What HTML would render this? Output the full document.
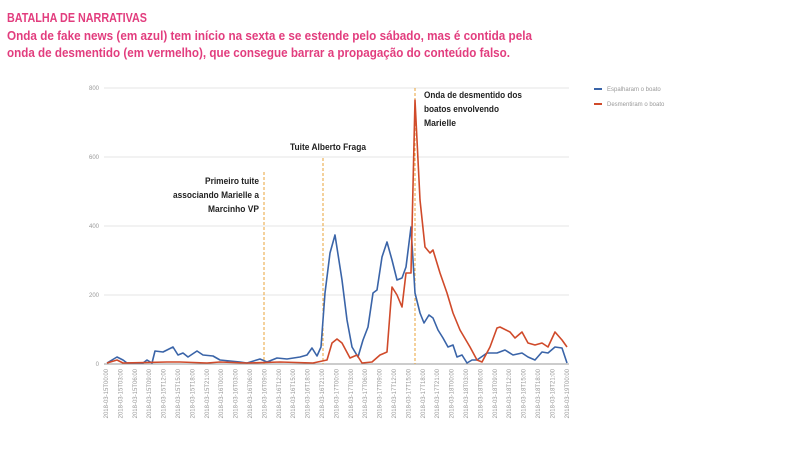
<!DOCTYPE html>
<html><head><meta charset="utf-8"><style>
html,body{margin:0;padding:0;background:#fff;width:800px;height:450px;overflow:hidden}
svg{display:block}
.t{font-family:"Liberation Sans Narrow","Liberation Sans",sans-serif;font-weight:bold;fill:#e23d7e}
.a{font-family:"Liberation Sans Narrow","Liberation Sans",sans-serif;font-weight:bold;fill:#222;font-size:9.5px}
.ax{font-family:"Liberation Sans",sans-serif;fill:#999;font-size:6px}
</style></head><body>
<svg width="800" height="450" viewBox="0 0 800 450">
<text class="t" x="7" y="22" font-size="13" textLength="140" lengthAdjust="spacingAndGlyphs">BATALHA DE NARRATIVAS</text>
<text class="t" x="7" y="40" font-size="13" textLength="525" lengthAdjust="spacingAndGlyphs">Onda de fake news (em azul) tem início na sexta e se estende pelo sábado, mas é contida pela</text>
<text class="t" x="7" y="57" font-size="13" textLength="503" lengthAdjust="spacingAndGlyphs">onda de desmentido (em vermelho), que consegue barrar a propagação do conteúdo falso.</text>
<g stroke="#e4e4e4" stroke-width="1">
<line x1="104" y1="88" x2="569" y2="88"/><line x1="104" y1="157" x2="569" y2="157"/>
<line x1="104" y1="226" x2="569" y2="226"/><line x1="104" y1="295" x2="569" y2="295"/>
</g>
<line x1="104" y1="364" x2="569" y2="364" stroke="#999" stroke-width="1"/>
<g class="ax" text-anchor="end">
<text x="99" y="90">800</text><text x="99" y="159">600</text><text x="99" y="228">400</text><text x="99" y="297">200</text><text x="99" y="366">0</text>
</g>
<g stroke="#e8a33a" stroke-width="1" stroke-dasharray="3,2">
<line x1="264" y1="172" x2="264" y2="364"/><line x1="323" y1="158" x2="323" y2="364"/><line x1="415" y1="88" x2="415" y2="364"/>
</g>
<text class="a" x="259" y="184" text-anchor="end" textLength="54" lengthAdjust="spacingAndGlyphs">Primeiro tuite</text>
<text class="a" x="259" y="198" text-anchor="end" textLength="86" lengthAdjust="spacingAndGlyphs">associando Marielle a</text>
<text class="a" x="259" y="212" text-anchor="end" textLength="51" lengthAdjust="spacingAndGlyphs">Marcinho VP</text>
<text class="a" x="290" y="150" textLength="76" lengthAdjust="spacingAndGlyphs">Tuite Alberto Fraga</text>
<text class="a" x="424" y="98" textLength="98" lengthAdjust="spacingAndGlyphs">Onda de desmentido dos</text>
<text class="a" x="424" y="112" textLength="75" lengthAdjust="spacingAndGlyphs">boatos envolvendo</text>
<text class="a" x="424" y="126" textLength="32" lengthAdjust="spacingAndGlyphs">Marielle</text>
<polyline fill="none" stroke="#3a64a8" stroke-width="1.6" stroke-linejoin="round" points="107,363 117,357 123,360 127,363 143,363 147,360 152,363 155,351 163,352 173,347 178,355 183,353 188,357 197,351 203,355 213,356 220,360 230,361 240,362 247,363 260,359 267,362 277,358 287,359 300,357 307,355 312,348 317,356 321,347 325,293 330,253 335,235 342,280 347,320 352,347 358,357 363,340 368,327 373,293 377,290 382,257 387,242 392,260 397,280 402,278 406,267 411,227 415,293 420,313 424,323 429,315 433,318 438,330 443,338 448,347 453,345 457,357 462,355 467,363 472,360 477,360 487,353 497,353 505,350 513,355 522,353 528,357 535,360 542,352 548,353 555,347 562,348 567,363"/>
<polyline fill="none" stroke="#d04a2a" stroke-width="1.6" stroke-linejoin="round" points="107,363 117,360 123,363 167,362 180,362 207,363 220,362 247,363 280,362 313,363 327,360 332,343 337,339 342,343 350,358 357,355 362,363 372,362 380,355 387,352 392,287 397,295 402,307 406,273 411,273 415,100 420,200 425,247 430,253 433,250 440,273 447,293 453,313 460,330 470,347 477,360 482,362 490,347 497,328 500,327 510,332 515,338 522,332 528,343 535,345 542,343 548,347 555,332 562,340 567,347"/>
<line x1="594" y1="89" x2="602" y2="89" stroke="#3a64a8" stroke-width="2"/>
<text class="ax" x="607" y="91" font-size="6.5">Espalharam o boato</text>
<line x1="594" y1="104" x2="602" y2="104" stroke="#d04a2a" stroke-width="2"/>
<text class="ax" x="607" y="106" font-size="6.5">Desmentiram o boato</text>
<g class="ax" text-anchor="end" font-size="5.5">
<text transform="translate(108,369) rotate(-90)">2018-03-15T00:00</text>
<text transform="translate(122.4,369) rotate(-90)">2018-03-15T03:00</text>
<text transform="translate(136.8,369) rotate(-90)">2018-03-15T06:00</text>
<text transform="translate(151.2,369) rotate(-90)">2018-03-15T09:00</text>
<text transform="translate(165.6,369) rotate(-90)">2018-03-15T12:00</text>
<text transform="translate(180,369) rotate(-90)">2018-03-15T15:00</text>
<text transform="translate(194.4,369) rotate(-90)">2018-03-15T18:00</text>
<text transform="translate(208.8,369) rotate(-90)">2018-03-15T21:00</text>
<text transform="translate(223.2,369) rotate(-90)">2018-03-16T00:00</text>
<text transform="translate(237.6,369) rotate(-90)">2018-03-16T03:00</text>
<text transform="translate(252,369) rotate(-90)">2018-03-16T06:00</text>
<text transform="translate(266.4,369) rotate(-90)">2018-03-16T09:00</text>
<text transform="translate(280.8,369) rotate(-90)">2018-03-16T12:00</text>
<text transform="translate(295.2,369) rotate(-90)">2018-03-16T15:00</text>
<text transform="translate(309.6,369) rotate(-90)">2018-03-16T18:00</text>
<text transform="translate(324,369) rotate(-90)">2018-03-16T21:00</text>
<text transform="translate(338.4,369) rotate(-90)">2018-03-17T00:00</text>
<text transform="translate(352.8,369) rotate(-90)">2018-03-17T03:00</text>
<text transform="translate(367.2,369) rotate(-90)">2018-03-17T06:00</text>
<text transform="translate(381.6,369) rotate(-90)">2018-03-17T09:00</text>
<text transform="translate(396,369) rotate(-90)">2018-03-17T12:00</text>
<text transform="translate(410.4,369) rotate(-90)">2018-03-17T15:00</text>
<text transform="translate(424.8,369) rotate(-90)">2018-03-17T18:00</text>
<text transform="translate(439.2,369) rotate(-90)">2018-03-17T21:00</text>
<text transform="translate(453.6,369) rotate(-90)">2018-03-18T00:00</text>
<text transform="translate(468,369) rotate(-90)">2018-03-18T03:00</text>
<text transform="translate(482.4,369) rotate(-90)">2018-03-18T06:00</text>
<text transform="translate(496.8,369) rotate(-90)">2018-03-18T09:00</text>
<text transform="translate(511.2,369) rotate(-90)">2018-03-18T12:00</text>
<text transform="translate(525.6,369) rotate(-90)">2018-03-18T15:00</text>
<text transform="translate(540,369) rotate(-90)">2018-03-18T18:00</text>
<text transform="translate(554.4,369) rotate(-90)">2018-03-18T21:00</text>
<text transform="translate(568.8,369) rotate(-90)">2018-03-19T00:00</text>
</g>
</svg>
</body></html>
